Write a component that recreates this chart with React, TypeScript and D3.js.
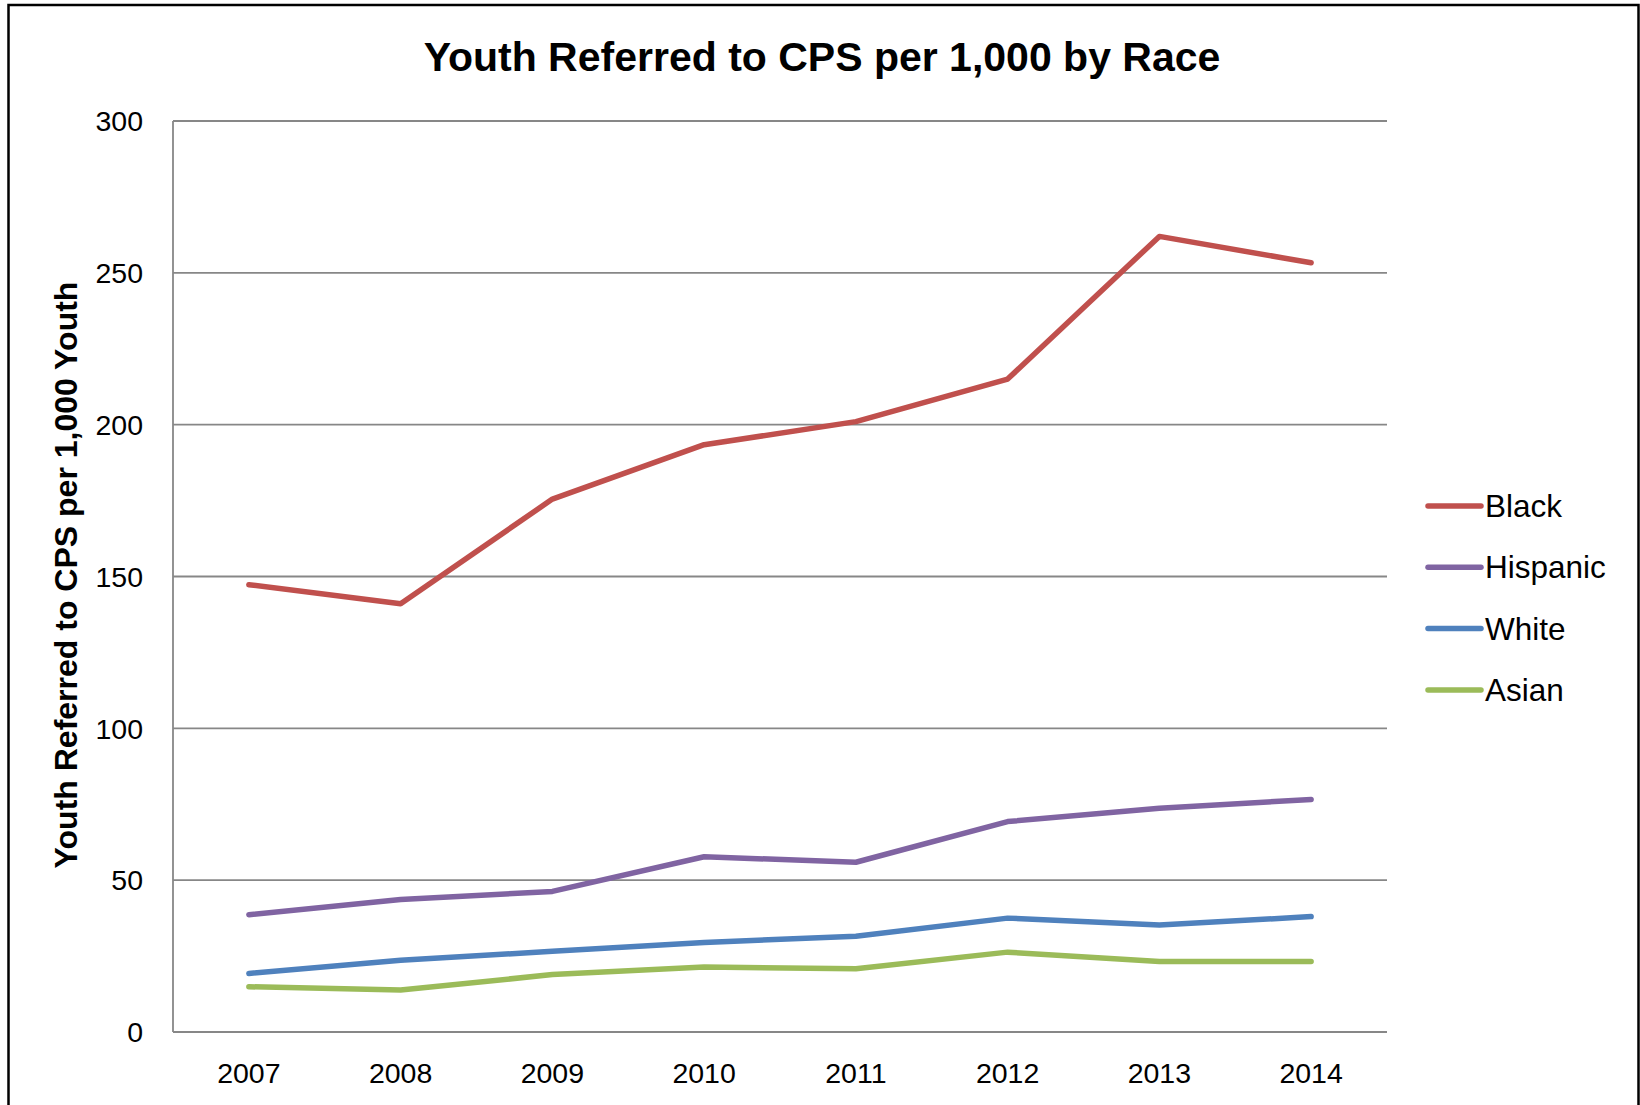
import React from 'react';
import * as d3 from 'd3';

const years = ['2007', '2008', '2009', '2010', '2011', '2012', '2013', '2014'];
const black = [147.3, 141.0, 175.5, 193.4, 201.0, 215.0, 262.0, 253.3];
const hispanic = [38.6, 43.6, 46.3, 57.7, 55.9, 69.3, 73.7, 76.6];
const white = [19.3, 23.6, 26.6, 29.5, 31.5, 37.5, 35.2, 38.0];
const asian = [14.9, 13.8, 18.9, 21.4, 20.8, 26.3, 23.2, 23.2];
const yTicks = [0, 50, 100, 150, 200, 250, 300];

const seriesNames = ['Black', 'Hispanic', 'White', 'Asian'];
const seriesValues = [black, hispanic, white, asian];
const seriesColors = ['#C0504D', '#8064A2', '#4F81BD', '#9BBB59'];

const W = 1640;
const H = 1105;
const plot = { left: 173, right: 1387, top: 121, bottom: 1032 };
const font = '"Liberation Sans", Arial, sans-serif';

export default function App() {
  const x = d3.scalePoint<string>()
    .domain(years)
    .range([plot.left, plot.right])
    .padding(0.5);

  const y = d3.scaleLinear()
    .domain([0, 300])
    .range([plot.bottom, plot.top]);

  const line = d3.line<number>()
    .x((_, i) => x(years[i]) as number)
    .y(d => y(d));

  return (
    <>
      <style>{`body{margin:0}`}</style>
      <svg width={W} height={H} style={{ display: 'block', fontFamily: font }}>
        <rect x={0} y={0} width={W} height={H} fill="#fff" />
        {/* outer chart border, cut off at the bottom */}
        <rect x={8.5} y={5} width={1630} height={1200} fill="none" stroke="#000" strokeWidth={2.5} />

        <text x={822} y={71} textAnchor="middle" fontSize={41} fontWeight="bold" fill="#000">
          Youth Referred to CPS per 1,000 by Race
        </text>

        {/* grid lines */}
        {yTicks.map(t => (
          <line key={t} x1={plot.left} x2={plot.right} y1={y(t)} y2={y(t)} stroke="#878787" strokeWidth={1.8} />
        ))}
        <line x1={plot.left} x2={plot.left} y1={plot.top} y2={plot.bottom} stroke="#878787" strokeWidth={1.8} />

        {/* y tick labels */}
        {yTicks.map(t => (
          <text key={t} x={143} y={y(t)} dy="0.36em" textAnchor="end" fontSize={28.5} fill="#000">
            {t}
          </text>
        ))}

        {/* x tick labels */}
        {years.map(yr => (
          <text key={yr} x={x(yr)} y={1083} textAnchor="middle" fontSize={28.5} fill="#000">
            {yr}
          </text>
        ))}

        <text
          transform={`translate(77,575) rotate(-90)`}
          textAnchor="middle"
          fontSize={32}
          fontWeight="bold"
          fill="#000"
        >
          Youth Referred to CPS per 1,000 Youth
        </text>

        {/* series */}
        {seriesValues.map((vals, i) => (
          <path
            key={seriesNames[i]}
            d={line(vals) || ''}
            fill="none"
            stroke={seriesColors[i]}
            strokeWidth={5.5}
            strokeLinejoin="round"
            strokeLinecap="round"
          />
        ))}

        {/* legend */}
        {seriesNames.map((name, i) => {
          const ly = 506 + i * 61.3;
          return (
            <g key={name}>
              <line x1={1428} x2={1481} y1={ly} y2={ly} stroke={seriesColors[i]} strokeWidth={5.5} strokeLinecap="round" />
              <text x={1485} y={ly + 11} fontSize={31.5} fill="#000">{name}</text>
            </g>
          );
        })}
      </svg>
    </>
  );
}
